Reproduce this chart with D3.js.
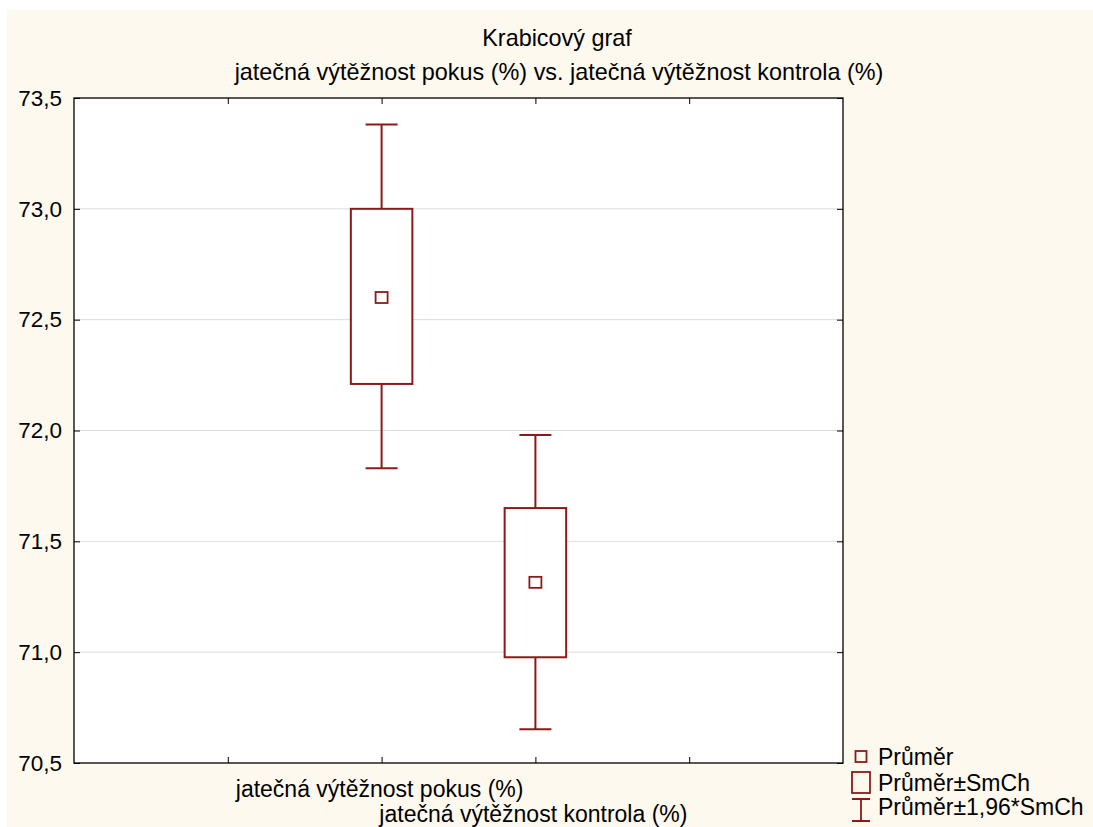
<!DOCTYPE html>
<html>
<head>
<meta charset="utf-8">
<script src="https://cdn.jsdelivr.net/npm/d3@7"></script>
<style>
  body { margin: 0; background: #fff; }
  text { font-family: "Liberation Sans", Arial, sans-serif; fill: #000; }
</style>
</head>
<body>
<script>
// Chart data
var categories = ["jatečná výtěžnost pokus (%)", "jatečná výtěžnost kontrola (%)"];
var means = [72.60, 71.315];
var seLow = [72.21, 70.977];
var seHigh = [73.00, 71.65];
var ciLow = [71.83, 70.652];
var ciHigh = [73.38, 71.98];
var yTicks = [70.5, 71.0, 71.5, 72.0, 72.5, 73.0, 73.5];
var legendLabels = ["Průměr", "Průměr±SmCh", "Průměr±1,96*SmCh"];

var width = 1093, height = 827;
var plot = {left: 74, right: 843, top: 98, bottom: 763};
var red = "#8c1a1a";
var tickFont = 22.5, labelFont = 23, titleFont = 23.4;

var svg = d3.select("body").append("svg")
  .attr("width", width)
  .attr("height", height);

// cream background
svg.append("rect")
  .attr("x", 7).attr("y", 10)
  .attr("width", width - 7).attr("height", height - 10)
  .attr("fill", "#fdf9ef");

// scales
var y = d3.scaleLinear().domain([70.5, 73.5]).range([plot.bottom, plot.top]);
var x = d3.scaleLinear().domain([0, 5]).range([plot.left, plot.right]);
var catPos = [2, 3];
var xTicks = [1, 2, 3, 4];

svg.append("rect")
  .attr("x", plot.left).attr("y", plot.top)
  .attr("width", plot.right - plot.left).attr("height", plot.bottom - plot.top)
  .attr("fill", "#fff");

// grid lines
svg.append("g").selectAll("line")
  .data(yTicks.slice(1, -1))
  .enter().append("line")
  .attr("x1", plot.left).attr("x2", plot.right)
  .attr("y1", function(d) { return y(d); })
  .attr("y2", function(d) { return y(d); })
  .attr("stroke", "#dcdcdc")
  .attr("stroke-width", 1);

// axes with inward ticks
var fmt = function(d) { return d3.format(".1f")(d).replace(".", ","); };
var tickLen = 6;

var yLeft = svg.append("g")
  .attr("transform", "translate(" + plot.left + ",0)")
  .call(d3.axisLeft(y).tickValues(yTicks).tickSize(-tickLen).tickPadding(12).tickFormat(fmt));
yLeft.selectAll("text").style("font-size", tickFont + "px").style("font-family", "Liberation Sans, Arial, sans-serif");

var yRight = svg.append("g")
  .attr("transform", "translate(" + plot.right + ",0)")
  .call(d3.axisRight(y).tickValues(yTicks).tickSize(-tickLen).tickFormat(""));

var xTop = svg.append("g")
  .attr("transform", "translate(0," + plot.top + ")")
  .call(d3.axisTop(x).tickValues(xTicks).tickSize(-tickLen).tickFormat(""));

var xBottom = svg.append("g")
  .attr("transform", "translate(0," + plot.bottom + ")")
  .call(d3.axisBottom(x).tickValues(xTicks).tickSize(-tickLen).tickFormat(""));

[yLeft, yRight, xTop, xBottom].forEach(function(g) {
  g.select(".domain").remove();
  g.selectAll(".tick line").attr("stroke", "#000").attr("stroke-width", 1);
});

// frame
svg.append("rect")
  .attr("x", plot.left).attr("y", plot.top)
  .attr("width", plot.right - plot.left).attr("height", plot.bottom - plot.top)
  .attr("fill", "none")
  .attr("stroke", "#000")
  .attr("stroke-width", 1.3);

// boxes
var boxHalf = x(0.2) - x(0);
var capHalf = x(0.104) - x(0);
var meanHalf = 6;

var boxes = svg.append("g").selectAll("g")
  .data(categories.map(function(c, i) { return i; }))
  .enter().append("g");

boxes.append("line")
  .attr("x1", function(i) { return x(catPos[i]); })
  .attr("x2", function(i) { return x(catPos[i]); })
  .attr("y1", function(i) { return y(ciHigh[i]); })
  .attr("y2", function(i) { return y(ciLow[i]); })
  .attr("stroke", red).attr("stroke-width", 2);

boxes.selectAll(".cap")
  .data(function(i) { return [[i, ciHigh[i]], [i, ciLow[i]]]; })
  .enter().append("line")
  .attr("class", "cap")
  .attr("x1", function(d) { return x(catPos[d[0]]) - capHalf; })
  .attr("x2", function(d) { return x(catPos[d[0]]) + capHalf; })
  .attr("y1", function(d) { return y(d[1]); })
  .attr("y2", function(d) { return y(d[1]); })
  .attr("stroke", red).attr("stroke-width", 2);

boxes.append("rect")
  .attr("x", function(i) { return x(catPos[i]) - boxHalf; })
  .attr("width", 2 * boxHalf)
  .attr("y", function(i) { return y(seHigh[i]); })
  .attr("height", function(i) { return y(seLow[i]) - y(seHigh[i]); })
  .attr("fill", "#fff")
  .attr("stroke", red).attr("stroke-width", 2);

boxes.append("rect")
  .attr("x", function(i) { return x(catPos[i]) - meanHalf; })
  .attr("y", function(i) { return y(means[i]) - meanHalf + 0.5; })
  .attr("width", 2 * meanHalf).attr("height", 2 * meanHalf - 1)
  .attr("fill", "#fff")
  .attr("stroke", red).attr("stroke-width", 1.8);

// title
svg.append("text")
  .attr("x", 557).attr("y", 46)
  .attr("text-anchor", "middle")
  .style("font-size", titleFont + "px")
  .text("Krabicový graf");
svg.append("text")
  .attr("x", 559).attr("y", 80)
  .attr("text-anchor", "middle")
  .style("font-size", titleFont + "px")
  .text(categories[0] + " vs. " + categories[1]);

// category labels (staggered)
var labelY = [797, 822];
svg.append("g").selectAll("text")
  .data(categories)
  .enter().append("text")
  .attr("x", function(d, i) { return x(catPos[i]) - 2; })
  .attr("y", function(d, i) { return labelY[i]; })
  .attr("text-anchor", "middle")
  .style("font-size", labelFont + "px")
  .text(function(d) { return d; });

// legend
var leg = svg.append("g");
var lx = 861;
var legBase = [765, 791, 815];
leg.append("rect")
  .attr("x", lx - 5.5).attr("y", 751).attr("width", 11).attr("height", 11)
  .attr("fill", "none").attr("stroke", red).attr("stroke-width", 1.8);
leg.append("rect")
  .attr("x", lx - 9).attr("y", 772).attr("width", 18).attr("height", 21)
  .attr("fill", "none").attr("stroke", red).attr("stroke-width", 1.8);
leg.append("path")
  .attr("d", "M" + (lx - 9) + ",799H" + (lx + 9) + "M" + lx + ",799V821M" + (lx - 9) + ",821H" + (lx + 9))
  .attr("fill", "none").attr("stroke", red).attr("stroke-width", 1.8);
leg.selectAll("text")
  .data(legendLabels)
  .enter().append("text")
  .attr("x", 878)
  .attr("y", function(d, i) { return legBase[i]; })
  .style("font-size", labelFont + "px")
  .text(function(d) { return d; });
</script>
</body>
</html>
